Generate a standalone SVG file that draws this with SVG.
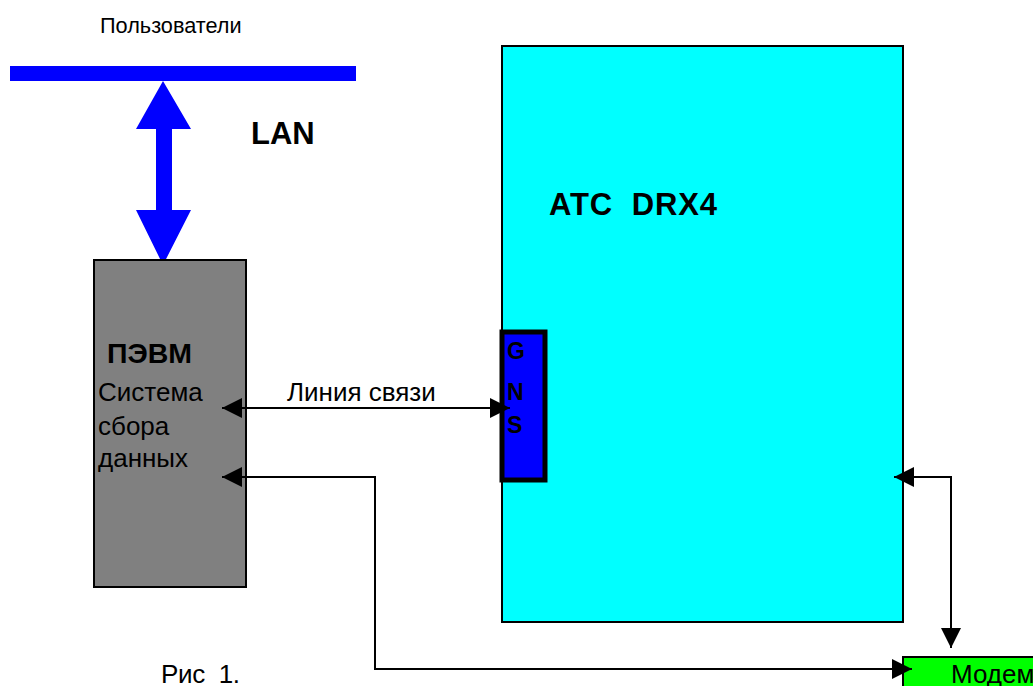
<svg xmlns="http://www.w3.org/2000/svg" width="1033" height="686" viewBox="0 0 1033 686">
<defs>
<style>
text{font-family:"Liberation Sans",Arial,sans-serif;fill:#000}
.r{font-size:26px}
.b{font-weight:bold}
.thin{stroke:#000;stroke-width:2;fill:none}
</style>
<marker id="ah" viewBox="0 0 20 20" refX="20" refY="10" markerWidth="20" markerHeight="20" markerUnits="userSpaceOnUse" orient="auto-start-reverse">
<path d="M0,0 L20,10 L0,20 Z" fill="#000"/>
</marker>
</defs>
<rect width="1033" height="686" fill="#fff"/>
<g id="users">
<text x="100" y="33" font-size="21.7">Пользователи</text>
<rect x="10" y="66" width="346" height="15" fill="#0000ff"/>
</g>
<g id="lan-link">
<path d="M163,81 L191,129 L172,129 L172,210 L191,210 L163,265 L136,210 L156,210 L156,129 L136,129 Z" fill="#0000ff"/>
<text x="251" y="144" class="b" font-size="31">LAN</text>
</g>
<g id="atc">
<rect x="502" y="46" width="401" height="576" fill="#00ffff" stroke="#000" stroke-width="2"/>
<text x="549" y="215" class="b" font-size="31" xml:space="preserve" textLength="168" lengthAdjust="spacing">ATC  DRX4</text>
</g>
<g id="gns">
<rect x="502" y="332" width="43" height="148" fill="#0000ff" stroke="#000" stroke-width="5"/>
<text x="507" y="359" class="b" font-size="23">G</text>
<text x="507" y="400" class="b" font-size="23">N</text>
<text x="507" y="433" class="b" font-size="23">S</text>
</g>
<g id="pc">
<rect x="94" y="260" width="152" height="327" fill="#808080" stroke="#000" stroke-width="2"/>
<text x="107" y="363" class="b" font-size="28.5">ПЭВМ</text>
<text x="98" y="401" class="r">Система</text>
<text x="98" y="435" class="r">сбора</text>
<text x="98" y="467" class="r">данных</text>
</g>
<g id="modem">
<rect x="903" y="657" width="140" height="40" fill="#00ff00" stroke="#000" stroke-width="2"/>
<text x="951" y="683" class="r">Модем</text>
</g>
<g id="connectors">
<line x1="222" y1="408" x2="510" y2="408" class="thin" marker-start="url(#ah)" marker-end="url(#ah)"/>
<path d="M222,477 L375,477 L375,669 L912,669" class="thin" marker-start="url(#ah)" marker-end="url(#ah)"/>
<path d="M894,477 L951,477 L951,648" class="thin" marker-start="url(#ah)" marker-end="url(#ah)"/>
</g>
<text x="161" y="683" class="r" xml:space="preserve" textLength="79" lengthAdjust="spacing">Рис  1.</text>
<text x="287" y="401" class="r">Линия связи</text>
</svg>
